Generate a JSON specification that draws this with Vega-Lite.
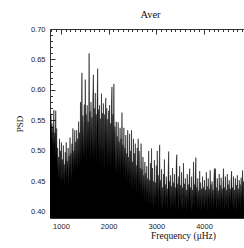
{
"$schema": "https://vega.github.io/schema/vega-lite/v6.json",
"width": 266, "height": 189,
"autosize": {"type": "none"},
"padding": {"left": 50, "top": 29, "right": 0, "bottom": 31},
"title": {"text": "Aver", "anchor": "start", "dx": 125, "offset": 5, "font": "Liberation Serif", "fontSize": 10.5, "fontWeight": "normal", "color": "#111"},
"config": {"view": {"stroke": "#333", "strokeWidth": 1}, "axis": {"domain": false, "grid": false, "labelFont": "Liberation Sans", "labelFontSize": 7.5, "labelColor": "#222", "tickColor": "#333", "titleFont": "Liberation Serif", "titleFontWeight": "normal", "titleColor": "#111"}},
"datasets": {"psd": [
{"f":770,"p":0.552},{"f":780,"p":0.530},{"f":790,"p":0.561},{"f":800,"p":0.520},{"f":810,"p":0.545},{"f":820,"p":0.505},{"f":830,"p":0.540},{"f":840,"p":0.498},{"f":850,"p":0.567},{"f":860,"p":0.510},{"f":870,"p":0.530},{"f":880,"p":0.490},{"f":890,"p":0.566},{"f":900,"p":0.500},
{"f":910,"p":0.537},{"f":920,"p":0.470},{"f":930,"p":0.505},{"f":940,"p":0.455},{"f":950,"p":0.490},{"f":960,"p":0.462},{"f":970,"p":0.520},{"f":980,"p":0.450},{"f":990,"p":0.500},{"f":1000,"p":0.468},{"f":1010,"p":0.514},{"f":1020,"p":0.445},{"f":1030,"p":0.486},{"f":1040,"p":0.460},{"f":1050,"p":0.509},{"f":1060,"p":0.452},{"f":1070,"p":0.478},{"f":1080,"p":0.442},{"f":1090,"p":0.498},{"f":1100,"p":0.463},{"f":1110,"p":0.514},{"f":1120,"p":0.450},{"f":1130,"p":0.483},{"f":1140,"p":0.470},{"f":1150,"p":0.505},{"f":1160,"p":0.440},{"f":1170,"p":0.492},{"f":1180,"p":0.458},{"f":1190,"p":0.522},{"f":1200,"p":0.466},{"f":1210,"p":0.496},{"f":1220,"p":0.448},{"f":1230,"p":0.512},{"f":1240,"p":0.472},{"f":1250,"p":0.537},{"f":1260,"p":0.462},{"f":1270,"p":0.500},{"f":1280,"p":0.475},{"f":1290,"p":0.534},{"f":1300,"p":0.468},
{"f":1310,"p":0.515},{"f":1320,"p":0.478},{"f":1330,"p":0.534},{"f":1340,"p":0.470},{"f":1350,"p":0.520},{"f":1360,"p":0.485},{"f":1370,"p":0.548},{"f":1380,"p":0.476},{"f":1390,"p":0.530},{"f":1400,"p":0.490},{"f":1410,"p":0.580},{"f":1420,"p":0.480},{"f":1430,"p":0.545},{"f":1440,"p":0.628},{"f":1450,"p":0.492},{"f":1460,"p":0.558},{"f":1470,"p":0.485},{"f":1480,"p":0.540},{"f":1490,"p":0.576},{"f":1500,"p":0.488},{"f":1510,"p":0.617},{"f":1520,"p":0.495},{"f":1530,"p":0.560},{"f":1540,"p":0.482},{"f":1550,"p":0.575},{"f":1560,"p":0.500},{"f":1570,"p":0.548},{"f":1580,"p":0.490},{"f":1590,"p":0.660},{"f":1600,"p":0.495},{"f":1610,"p":0.565},{"f":1620,"p":0.478},{"f":1630,"p":0.580},{"f":1640,"p":0.502},{"f":1650,"p":0.555},{"f":1660,"p":0.488},{"f":1670,"p":0.592},{"f":1680,"p":0.625},{"f":1690,"p":0.490},{"f":1700,"p":0.570},{"f":1710,"p":0.484},{"f":1720,"p":0.595},{"f":1730,"p":0.498},{"f":1740,"p":0.560},{"f":1750,"p":0.480},{"f":1760,"p":0.582},{"f":1770,"p":0.635},{"f":1780,"p":0.492},{"f":1790,"p":0.568},{"f":1800,"p":0.476},{"f":1810,"p":0.575},{"f":1820,"p":0.494},{"f":1830,"p":0.553},{"f":1840,"p":0.486},{"f":1850,"p":0.594},{"f":1860,"p":0.490},{"f":1870,"p":0.562},{"f":1880,"p":0.474},{"f":1890,"p":0.578},{"f":1900,"p":0.488},
{"f":1910,"p":0.560},{"f":1920,"p":0.470},{"f":1930,"p":0.548},{"f":1940,"p":0.587},{"f":1950,"p":0.480},{"f":1960,"p":0.570},{"f":1970,"p":0.468},{"f":1980,"p":0.552},{"f":1990,"p":0.486},{"f":2000,"p":0.566},{"f":2010,"p":0.474},{"f":2020,"p":0.575},{"f":2030,"p":0.490},{"f":2040,"p":0.545},{"f":2050,"p":0.470},{"f":2060,"p":0.572},{"f":2070,"p":0.605},{"f":2080,"p":0.482},{"f":2090,"p":0.560},{"f":2100,"p":0.470},{"f":2110,"p":0.610},{"f":2120,"p":0.488},{"f":2130,"p":0.540},{"f":2140,"p":0.466},{"f":2150,"p":0.530},{"f":2160,"p":0.548},{"f":2170,"p":0.462},{"f":2180,"p":0.524},{"f":2190,"p":0.478},{"f":2200,"p":0.547},{"f":2210,"p":0.460},{"f":2220,"p":0.515},{"f":2230,"p":0.472},{"f":2240,"p":0.538},{"f":2250,"p":0.458},{"f":2260,"p":0.520},{"f":2270,"p":0.475},{"f":2280,"p":0.563},{"f":2290,"p":0.466},{"f":2300,"p":0.510},{"f":2310,"p":0.455},{"f":2320,"p":0.538},{"f":2330,"p":0.468},{"f":2340,"p":0.505},{"f":2350,"p":0.452},{"f":2360,"p":0.526},{"f":2370,"p":0.462},{"f":2380,"p":0.496},{"f":2390,"p":0.448},{"f":2400,"p":0.534},
{"f":2410,"p":0.458},{"f":2420,"p":0.490},{"f":2430,"p":0.445},{"f":2440,"p":0.528},{"f":2450,"p":0.455},{"f":2460,"p":0.500},{"f":2470,"p":0.440},{"f":2480,"p":0.534},{"f":2490,"p":0.452},{"f":2500,"p":0.482},{"f":2510,"p":0.438},{"f":2520,"p":0.520},{"f":2530,"p":0.450},{"f":2540,"p":0.496},{"f":2550,"p":0.436},{"f":2560,"p":0.512},{"f":2570,"p":0.445},{"f":2580,"p":0.476},{"f":2590,"p":0.432},{"f":2600,"p":0.505},{"f":2610,"p":0.448},{"f":2620,"p":0.520},{"f":2630,"p":0.430},{"f":2640,"p":0.500},{"f":2650,"p":0.440},{"f":2660,"p":0.472},{"f":2670,"p":0.425},{"f":2680,"p":0.512},{"f":2690,"p":0.436},{"f":2700,"p":0.470},{"f":2710,"p":0.420},{"f":2720,"p":0.490},{"f":2730,"p":0.432},{"f":2740,"p":0.460},{"f":2750,"p":0.418},{"f":2760,"p":0.482},{"f":2770,"p":0.428},{"f":2780,"p":0.464},{"f":2790,"p":0.415},{"f":2800,"p":0.475},{"f":2810,"p":0.425},{"f":2820,"p":0.455},{"f":2830,"p":0.412},{"f":2840,"p":0.500},{"f":2850,"p":0.422},{"f":2860,"p":0.452},{"f":2870,"p":0.410},{"f":2880,"p":0.480},{"f":2890,"p":0.420},{"f":2900,"p":0.504},{"f":2910,"p":0.408},{"f":2920,"p":0.472},{"f":2930,"p":0.418},{"f":2940,"p":0.450},{"f":2950,"p":0.405},{"f":2960,"p":0.485},{"f":2970,"p":0.420},{"f":2980,"p":0.448},{"f":2990,"p":0.410},{"f":3000,"p":0.476},
{"f":3010,"p":0.418},{"f":3020,"p":0.500},{"f":3030,"p":0.425},{"f":3040,"p":0.460},{"f":3050,"p":0.410},{"f":3060,"p":0.445},{"f":3070,"p":0.510},{"f":3080,"p":0.420},{"f":3090,"p":0.452},{"f":3100,"p":0.405},{"f":3110,"p":0.470},{"f":3120,"p":0.418},{"f":3130,"p":0.440},{"f":3140,"p":0.402},{"f":3150,"p":0.462},{"f":3160,"p":0.415},{"f":3170,"p":0.486},{"f":3180,"p":0.422},{"f":3190,"p":0.445},{"f":3200,"p":0.408},{"f":3210,"p":0.458},{"f":3220,"p":0.420},{"f":3230,"p":0.438},{"f":3240,"p":0.404},{"f":3250,"p":0.468},{"f":3260,"p":0.499},{"f":3270,"p":0.418},{"f":3280,"p":0.450},{"f":3290,"p":0.402},{"f":3300,"p":0.460},{"f":3310,"p":0.415},{"f":3320,"p":0.442},{"f":3330,"p":0.406},{"f":3340,"p":0.472},{"f":3350,"p":0.420},{"f":3360,"p":0.448},{"f":3370,"p":0.410},{"f":3380,"p":0.462},{"f":3390,"p":0.416},{"f":3400,"p":0.440},{"f":3410,"p":0.404},{"f":3420,"p":0.480},{"f":3430,"p":0.494},{"f":3440,"p":0.418},{"f":3450,"p":0.446},{"f":3460,"p":0.402},{"f":3470,"p":0.458},{"f":3480,"p":0.420},{"f":3490,"p":0.475},{"f":3500,"p":0.412},{"f":3510,"p":0.444},{"f":3520,"p":0.404},{"f":3530,"p":0.465},{"f":3540,"p":0.422},{"f":3550,"p":0.440},{"f":3560,"p":0.400},{"f":3570,"p":0.480},{"f":3580,"p":0.418},{"f":3590,"p":0.446},{"f":3600,"p":0.405},{"f":3610,"p":0.455},{"f":3620,"p":0.420},{"f":3630,"p":0.436},{"f":3640,"p":0.402},{"f":3650,"p":0.462},{"f":3660,"p":0.415},{"f":3670,"p":0.445},{"f":3680,"p":0.408},{"f":3690,"p":0.452},{"f":3700,"p":0.471},{"f":3710,"p":0.412},{"f":3720,"p":0.440},{"f":3730,"p":0.400},{"f":3740,"p":0.458},{"f":3750,"p":0.418},{"f":3760,"p":0.436},{"f":3770,"p":0.405},{"f":3780,"p":0.482},{"f":3790,"p":0.420},{"f":3800,"p":0.445},{"f":3810,"p":0.410},{"f":3820,"p":0.460},{"f":3830,"p":0.489},{"f":3840,"p":0.415},{"f":3850,"p":0.440},{"f":3860,"p":0.402},{"f":3870,"p":0.455},{"f":3880,"p":0.418},{"f":3890,"p":0.435},{"f":3900,"p":0.404},{"f":3910,"p":0.467},{"f":3920,"p":0.412},{"f":3930,"p":0.448},{"f":3940,"p":0.400},{"f":3950,"p":0.438},{"f":3960,"p":0.415},{"f":3970,"p":0.458},{"f":3980,"p":0.408},{"f":3990,"p":0.440},{"f":4000,"p":0.420},
{"f":4010,"p":0.452},{"f":4020,"p":0.403},{"f":4030,"p":0.436},{"f":4040,"p":0.414},{"f":4050,"p":0.465},{"f":4060,"p":0.410},{"f":4070,"p":0.442},{"f":4080,"p":0.400},{"f":4090,"p":0.455},{"f":4100,"p":0.418},{"f":4110,"p":0.438},{"f":4120,"p":0.406},{"f":4130,"p":0.468},{"f":4140,"p":0.415},{"f":4150,"p":0.445},{"f":4160,"p":0.402},{"f":4170,"p":0.450},{"f":4180,"p":0.420},{"f":4190,"p":0.436},{"f":4200,"p":0.404},{"f":4210,"p":0.458},{"f":4220,"p":0.471},{"f":4230,"p":0.412},{"f":4240,"p":0.471},{"f":4250,"p":0.418},{"f":4260,"p":0.440},{"f":4270,"p":0.401},{"f":4280,"p":0.455},{"f":4290,"p":0.416},{"f":4300,"p":0.435},{"f":4310,"p":0.405},{"f":4320,"p":0.462},{"f":4330,"p":0.412},{"f":4340,"p":0.444},{"f":4350,"p":0.400},{"f":4360,"p":0.456},{"f":4370,"p":0.420},{"f":4380,"p":0.438},{"f":4390,"p":0.408},{"f":4400,"p":0.450},{"f":4410,"p":0.471},{"f":4420,"p":0.414},{"f":4430,"p":0.440},{"f":4440,"p":0.402},{"f":4450,"p":0.458},{"f":4460,"p":0.418},{"f":4470,"p":0.436},{"f":4480,"p":0.406},{"f":4490,"p":0.462},{"f":4500,"p":0.415},{"f":4510,"p":0.445},{"f":4520,"p":0.400},{"f":4530,"p":0.452},{"f":4540,"p":0.420},{"f":4550,"p":0.438},{"f":4560,"p":0.410},{"f":4570,"p":0.455},{"f":4580,"p":0.467},{"f":4590,"p":0.412},{"f":4600,"p":0.440},{"f":4610,"p":0.403},{"f":4620,"p":0.458},{"f":4630,"p":0.418},{"f":4640,"p":0.436},{"f":4650,"p":0.406},{"f":4660,"p":0.455},{"f":4670,"p":0.415},{"f":4680,"p":0.444},{"f":4690,"p":0.400},{"f":4700,"p":0.460},{"f":4710,"p":0.420},{"f":4720,"p":0.438},{"f":4730,"p":0.408},{"f":4740,"p":0.452},{"f":4750,"p":0.414},{"f":4760,"p":0.445},{"f":4770,"p":0.402},{"f":4780,"p":0.456},{"f":4790,"p":0.418},{"f":4800,"p":0.440},{"f":4810,"p":0.468},{"f":4820,"p":0.410},{"f":4830,"p":0.450},{"f":4840,"p":0.404},{"f":4850,"p":0.462},{"f":4860,"p":0.416},{"f":4870,"p":0.440},{"f":4880,"p":0.406},{"f":4890,"p":0.455},{"f":4900,"p":0.418}
]},
"layer": [
{"data": {"name": "psd"},
 "mark": {"type": "area", "fill": "black", "opacity": 1, "fillOpacity": 1, "clip": true, "line": {"color": "black", "strokeWidth": 0.5, "opacity": 1}},
 "encoding": {
  "x": {"field": "f", "type": "quantitative", "scale": {"domain": [770, 6350], "nice": false, "zero": false},
        "axis": {"orient": "bottom", "values": [1000, 2000, 3000, 4000, 5000, 6000], "format": "d", "ticks": false, "labelPadding": 4, "labelFlush": false, "title": "Frequency (μHz)", "titleFontSize": 9.5, "titlePadding": 1}},
  "y": {"field": "p", "type": "quantitative", "scale": {"domain": [0.39, 0.70], "nice": false, "zero": false},
        "axis": {"orient": "left", "values": [0.40, 0.45, 0.50, 0.55, 0.60, 0.65, 0.70], "format": ".2f", "ticks": false, "labelPadding": 5, "labelFlush": false, "title": "PSD", "titleFontSize": 9, "titlePadding": 6}},
  "y2": {"datum": 0.39}}},
{"data": {"values": [{"f": 1000, "p": 0.5}]},
 "mark": {"type": "point", "opacity": 0},
 "encoding": {
  "x": {"field": "f", "type": "quantitative", "axis": {"orient": "bottom", "values": [1000, 2000, 3000, 4000, 5000, 6000], "labels": false, "tickSize": -5, "title": null}},
  "y": {"field": "p", "type": "quantitative", "axis": {"orient": "left", "values": [0.40, 0.45, 0.50, 0.55, 0.60, 0.65, 0.70], "labels": false, "tickSize": -5, "title": null}}}},
{"data": {"values": [{"f": 1000, "p": 0.5}]},
 "mark": {"type": "point", "opacity": 0},
 "encoding": {
  "x": {"field": "f", "type": "quantitative", "axis": {"orient": "bottom", "values": [800,900,1100,1200,1300,1400,1500,1600,1700,1800,1900,2100,2200,2300,2400,2500,2600,2700,2800,2900,3100,3200,3300,3400,3500,3600,3700,3800,3900,4100,4200,4300,4400,4500,4600,4700,4800,4900,5100,5200,5300,5400,5500,5600,5700,5800,5900,6100,6200,6300], "labels": false, "tickSize": -2.5, "title": null}},
  "y": {"field": "p", "type": "quantitative", "axis": {"orient": "left", "values": [0.39,0.41,0.42,0.43,0.44,0.46,0.47,0.48,0.49,0.51,0.52,0.53,0.54,0.56,0.57,0.58,0.59,0.61,0.62,0.63,0.64,0.66,0.67,0.68,0.69], "labels": false, "tickSize": -2.5, "title": null}}}},
{"data": {"values": [{"f": 1000, "p": 0.5}]},
 "mark": {"type": "point", "opacity": 0},
 "encoding": {
  "x": {"field": "f", "type": "quantitative", "axis": {"orient": "top", "values": [1000, 2000, 3000, 4000, 5000, 6000], "labels": false, "tickSize": -5, "title": null}},
  "y": {"field": "p", "type": "quantitative", "axis": null}}},
{"data": {"values": [{"f": 1000, "p": 0.5}]},
 "mark": {"type": "point", "opacity": 0},
 "encoding": {
  "x": {"field": "f", "type": "quantitative", "axis": {"orient": "top", "values": [800,900,1100,1200,1300,1400,1500,1600,1700,1800,1900,2100,2200,2300,2400,2500,2600,2700,2800,2900,3100,3200,3300,3400,3500,3600,3700,3800,3900,4100,4200,4300,4400,4500,4600,4700,4800,4900,5100,5200,5300,5400,5500,5600,5700,5800,5900,6100,6200,6300], "labels": false, "tickSize": -2.5, "title": null}},
  "y": {"field": "p", "type": "quantitative", "axis": null}}}
],
"resolve": {"axis": {"x": "independent", "y": "independent"}}
}
